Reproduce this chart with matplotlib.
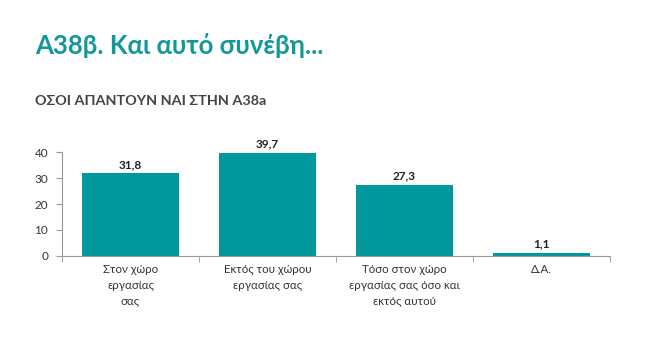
import matplotlib.pyplot as plt
import numpy as np

plt.rcParams['font.family'] = ['Lato', 'DejaVu Sans']

categories = ['Στον χώρο\nεργασίας\nσας', 'Εκτός του χώρου\nεργασίας σας',
              'Τόσο στον χώρο\nεργασίας σας όσο και\nεκτός αυτού', 'Δ.Α.']
values = [31.8, 39.7, 27.3, 1.1]
labels = ['31,8', '39,7', '27,3', '1,1']

teal = '#00979d'

fig = plt.figure(figsize=(6.6, 3.63), dpi=100)
ax = fig.add_axes([0.094, 0.295, 0.830, 0.286])

x = np.arange(len(categories))
ax.bar(x, values, width=0.71, color=teal)
for xi, v, lab in zip(x, values, labels):
    ax.text(xi, v + 1.3, lab, ha='center', va='bottom', fontsize=8.5, fontweight='bold', color='#222222')

ax.set_xlim(-0.5, len(categories) - 0.5)
ax.set_ylim(0, 40)
ax.set_yticks([0, 10, 20, 30, 40])
ax.set_xticks(x)
ax.set_xticklabels(categories, fontsize=8.3, color='#333333', linespacing=1.5)
ax.set_xticks(np.arange(-0.5, len(categories)), minor=True)
ax.tick_params(axis='x', which='major', length=0, pad=6)
ax.tick_params(axis='x', which='minor', length=4, color='#999999', direction='out')
ax.tick_params(axis='y', length=4, color='#999999', labelsize=8.5, labelcolor='#333333', pad=6)

for s in ['top', 'right']:
    ax.spines[s].set_visible(False)
ax.spines['left'].set_color('#999999')
ax.spines['bottom'].set_color('#999999')

fig.text(0.053, 0.875, 'Α38β. Και αυτό συνέβη...', fontsize=18.5, fontweight='bold', color='#14979b', va='center')
fig.text(0.053, 0.722, 'ΟΣΟΙ ΑΠΑΝΤΟΥΝ ΝΑΙ ΣΤΗΝ Α38a', fontsize=10.4, fontweight='bold', color='#444444', va='center')

fig.savefig('out.png', dpi=100)
plt.close(fig)
